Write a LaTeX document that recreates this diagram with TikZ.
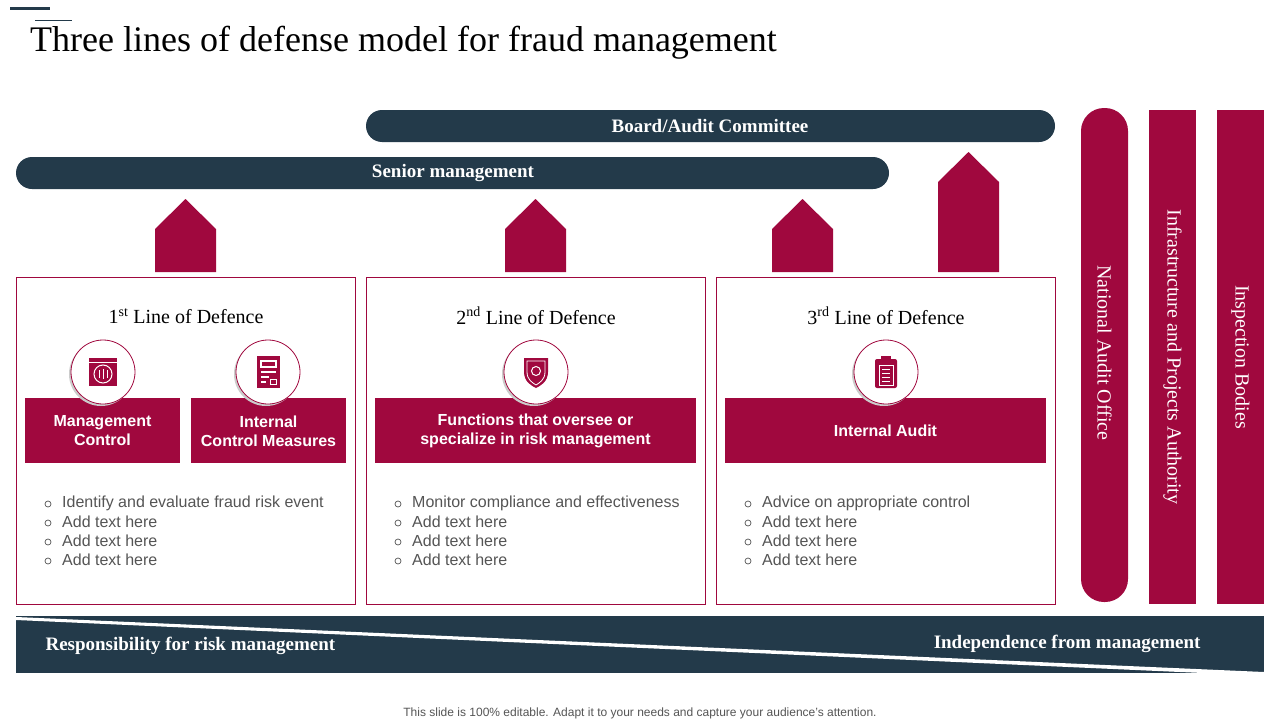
\documentclass[tikz,border=0pt]{standalone}
\usepackage{fontspec}
\setmainfont{Liberation Serif}
\setsansfont{Liberation Sans}
\definecolor{crim}{HTML}{A0083E}
\definecolor{navy}{HTML}{233A4A}
\definecolor{txt}{HTML}{555555}
\begin{document}
\begin{tikzpicture}[x=1pt,y=-1pt,
  pill/.style={fill=navy,rounded corners=16pt,text=white,font=\rmfamily\fontsize{19}{22}\selectfont},
  house/.style={fill=crim},
  card/.style={draw=crim,line width=0.8pt,fill=white},
  bar/.style={fill=crim,text=white,font=\sffamily\bfseries\fontsize{16}{19}\selectfont,align=center},
  ring/.style={circle,draw=crim,fill=white,line width=0.8pt,minimum size=64pt,inner sep=0pt},
  head/.style={font=\rmfamily\fontsize{20}{24}\selectfont},
  bul/.style={font=\sffamily\fontsize{16}{19}\selectfont,text=txt,anchor=west,inner sep=0pt},
  vlab/.style={rotate=-90,text=white,font=\rmfamily\fontsize{20}{24}\selectfont}]
\useasboundingbox (0,0) rectangle (1280,720);
\fill[white] (0,0) rectangle (1280,720);
\draw[navy,line width=3pt] (10,8) -- (50,8);
\draw[navy,line width=1pt] (35,20) -- (72,20);
\node[anchor=west,inner sep=0pt,font=\rmfamily\fontsize{36}{40}\selectfont] (title) at (30,43) {Three lines of defense model for fraud management};
% pills
\fill[navy,rounded corners=16pt] (366,110) rectangle (1055,142);
\node[text=white,font=\rmfamily\bfseries\fontsize{19}{22}\selectfont] (board) at (710,126) {Board/Audit Committee};
\fill[navy,rounded corners=16pt] (16,157) rectangle (889,189);
\node[text=white,font=\rmfamily\bfseries\fontsize{19}{22}\selectfont] (senior) at (453,173) {Senior management};
% houses
\foreach \x in {155,505,772}{\fill[crim] (\x,272) -- (\x,229) -- (\x+30.5,199) -- (\x+61,229) -- (\x+61,272) -- cycle;}
\fill[crim] (938,272) -- (938,182) -- (968.5,152) -- (999,182) -- (999,272) -- cycle;
% cards
\foreach \x in {16,366,716}{\draw[card] (\x,277) rectangle (\x+339,604);}
\node[head] (h1) at (186,316) {1\textsuperscript{st} Line of Defence};
\node[head] (h2) at (536,316) {2\textsuperscript{nd} Line of Defence};
\node[head] (h3) at (886,316) {3\textsuperscript{rd} Line of Defence};
% bars
\fill[crim] (25,398) rectangle (180,463); \node[bar] (b1) at (102.5,431) {Management\\Control};
\fill[crim] (191,398) rectangle (346,463); \node[bar] (b2) at (268.5,431) {Internal\\Control Measures};
\fill[crim] (375,398) rectangle (696,463); \node[bar] (b3) at (535.5,431) {Functions that oversee or\\specialize in risk management};
\fill[crim] (725,398) rectangle (1046,463); \node[bar] (b4) at (885.5,431) {Internal Audit};
% rings and icons
\foreach \cx/\n in {103/r1,268/r2,536/r3,886/r4}{
  \fill[black!20] (\cx-2,374) circle (32);
  \node[ring] (\n) at (\cx,372) {};}
% icon 1
\fill[crim] (89,358) rectangle (117,386);
\draw[white,line width=0.8pt] (89,362) -- (117,362);
\draw[white,line width=1pt] (103,374) circle (9);
\draw[white,line width=0.8pt] (99,378)--(99,370) (103,379)--(103,369) (107,378)--(107,370);
% icon 2
\fill[crim] (257,356) rectangle (280,388);
\draw[white,line width=1.2pt] (261,361) rectangle (276,367);
\draw[white,line width=1.2pt] (261,372)--(276,372) (261,377)--(269,377) (261,382)--(266,382);
\draw[white,line width=1pt] (270,379) rectangle (276,384);
% icon 3 shield
\fill[crim] (524,358) -- (548,358) -- (548,372) .. controls (548,382) and (540,386) .. (536,388) .. controls (532,386) and (524,382) .. (524,372) -- cycle;
\draw[white,line width=1pt] (536,371) circle (4.5);
\draw[white,line width=0.8pt] (527,361) -- (545,361) -- (545,372) .. controls (545,380) and (539,383) .. (536,385) .. controls (533,383) and (527,380) .. (527,372) -- cycle;
% icon 4 clipboard
\fill[crim,rounded corners=2pt] (875,359) rectangle (897,388);
\fill[crim] (881,356) rectangle (891,361);
\draw[white,line width=1pt] (879,365) rectangle (893,385);
\draw[white,line width=1pt] (882,369)--(890,369) (882,373)--(890,373) (882,377)--(890,377) (882,381)--(890,381);
% bullets
\foreach \x/\first/\k in {48/{Identify  and evaluate  fraud risk event}/a,398/{Monitor compliance and effectiveness}/b,748/{Advice on appropriate control}/c}{
  \foreach \y/\t/\j in {503/\first/1,522/Add text here/2,541/Add text here/3,560/Add text here/4}{
    \draw[txt,line width=0.7pt] (\x,\y+1) circle (3);
    \node[bul] (t\k\j) at (\x+14,\y) {\t};}}
% vertical bars
\fill[crim,rounded corners=23pt] (1081,108) rectangle (1128,602);
\node[vlab] (nao) at (1104.5,353) {National Audit Office};
\fill[crim] (1149,110) rectangle (1196,604);
\node[vlab] (ipa) at (1172.5,357) {Infrastructure and Projects Authority};
\fill[crim] (1217,110) rectangle (1264,604);
\node[vlab] (ib) at (1240.5,357) {Inspection Bodies};
% bottom bar
\fill[navy] (16,616) rectangle (1264,673);
\fill[white] (16,617) -- (1264,672) -- (1264,674) -- (1225,674) -- (16,620) -- cycle;
\fill[white] (16,673) rectangle (1264,676);
\node[anchor=west,text=white,font=\rmfamily\bfseries\fontsize{19}{22}\selectfont] (resp) at (42,646) {Responsibility for risk management};
\node[anchor=east,text=white,font=\rmfamily\bfseries\fontsize{19}{22}\selectfont] (ind) at (1204,644) {Independence from management};
\node[font=\sffamily\fontsize{12}{14}\selectfont,text=txt] (foot) at (640,713) {This slide is 100\% editable. Adapt it to your needs and capture your audience's attention.};
\end{tikzpicture}
\end{document}
